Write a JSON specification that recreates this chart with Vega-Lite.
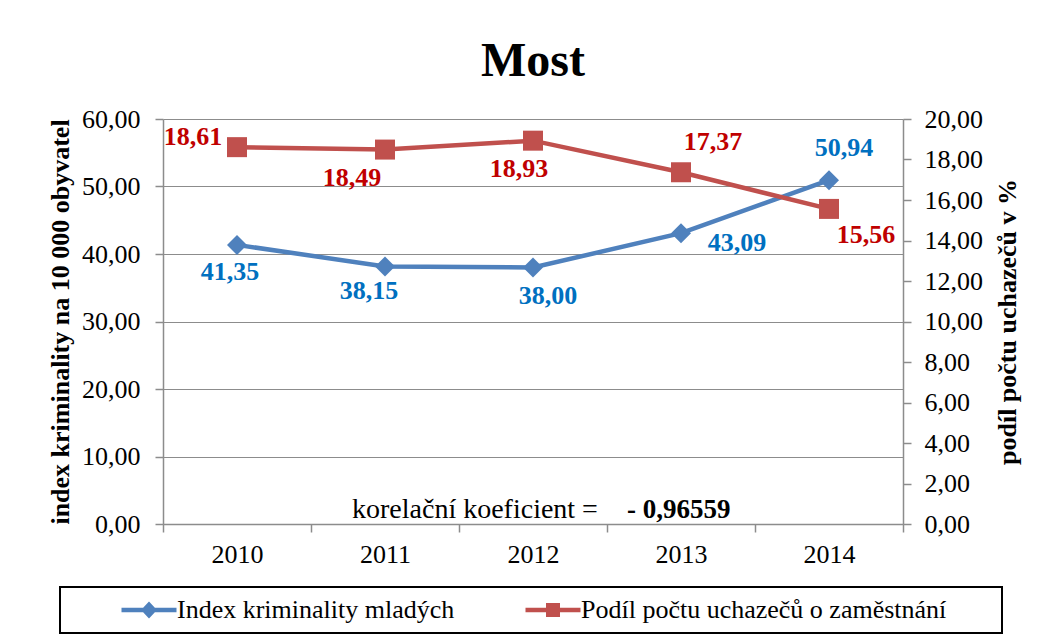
{
  "$schema": "https://vega.github.io/schema/vega-lite/v6.json",
  "width": 740,
  "height": 405,
  "autosize": "none",
  "padding": {"left": 163, "top": 119, "right": 142, "bottom": 120},
  "background": "white",
  "config": {
    "locale": {"number": {"decimal": ",", "thousands": " ", "grouping": [3], "currency": ["", ""]}},
    "font": "Liberation Serif",
    "view": {"stroke": null},
    "axis": {
      "labelFont": "Liberation Serif", "titleFont": "Liberation Serif",
      "labelColor": "black", "titleColor": "black",
      "labelFontSize": 26, "titleFontSize": 26, "titleFontWeight": "bold",
      "domainColor": "#8C8C8C", "tickColor": "#8C8C8C", "gridColor": "#8C8C8C",
      "domainWidth": 1.5, "tickWidth": 1.5, "gridWidth": 1.2, "tickSize": 8
    }
  },
  "title": {"text": "Most", "font": "Liberation Serif", "fontSize": 48, "fontWeight": "bold", "color": "black", "anchor": "middle", "frame": "group", "baseline": "alphabetic", "offset": -18},
  "datasets": {
    "main": [
      {"year": "2010", "series": "Index kriminality mladých", "value": 41.35},
      {"year": "2011", "series": "Index kriminality mladých", "value": 38.15},
      {"year": "2012", "series": "Index kriminality mladých", "value": 38.00},
      {"year": "2013", "series": "Index kriminality mladých", "value": 43.09},
      {"year": "2014", "series": "Index kriminality mladých", "value": 50.94},
      {"year": "2010", "series": "Podíl počtu uchazečů o zaměstnání", "value": 18.61},
      {"year": "2011", "series": "Podíl počtu uchazečů o zaměstnání", "value": 18.49},
      {"year": "2012", "series": "Podíl počtu uchazečů o zaměstnání", "value": 18.93},
      {"year": "2013", "series": "Podíl počtu uchazečů o zaměstnání", "value": 17.37},
      {"year": "2014", "series": "Podíl počtu uchazečů o zaměstnání", "value": 15.56}
    ],
    "note": [
      {"part": "a", "year": "2012", "text": "korelační koeficient ="},
      {"part": "b", "year": "2013", "text": "- 0,96559"}
    ]
  },
  "data": {"name": "main"},
  "encoding": {
    "x": {
      "field": "year", "type": "ordinal",
      "scale": {"type": "band", "paddingInner": 0, "paddingOuter": 0},
      "axis": {"title": null, "labelAngle": 0, "tickBand": "extent", "labelPadding": 9, "grid": false}
    }
  },
  "layer": [
    {
      "transform": [{"filter": "datum.series === 'Index kriminality mladých'"}],
      "encoding": {
        "y": {
          "field": "value", "type": "quantitative",
          "scale": {"domain": [0, 60], "nice": false},
          "axis": {"title": "index kriminality na 10 000 obyvatel", "values": [0, 10, 20, 30, 40, 50, 60], "format": ".2f", "grid": true, "labelPadding": 15, "titlePadding": 8}
        }
      },
      "layer": [
        {
          "mark": {"type": "line", "strokeWidth": 4.5},
          "encoding": {"color": {"field": "series", "type": "nominal", "scale": {"domain": ["Index kriminality mladých", "Podíl počtu uchazečů o zaměstnání"], "range": ["#4F81BD", "#C0504D"]}, "legend": {
            "orient": "none", "legendX": -103, "legendY": 468, "direction": "horizontal", "columns": 2,
            "title": " ", "titleOrient": "right", "titlePadding": 46, "titleFontSize": 26,
            "padding": 10, "strokeColor": "black", "fillColor": "white",
            "labelFont": "Liberation Serif", "labelFontSize": 26, "labelColor": "black", "labelLimit": 600,
            "symbolSize": 400, "symbolOffset": 66, "labelOffset": 15, "columnPadding": 19,
            "symbolType": "square", "symbolStrokeWidth": 0,
            "encode": {
              "legend": {"update": {"strokeWidth": {"value": 2}}},
              "symbols": {"update": {
                "shape": {"signal": "datum.value === 'Index kriminality mladých' ? 'M-2.75,-0.23H2.75V0.23H-2.75Z M0,-0.85L0.8,0L0,0.85L-0.8,0Z' : 'M-2.75,-0.23H2.75V0.23H-2.75Z M-0.7,-0.7H0.7V0.7H-0.7Z'"},
                "fill": {"signal": "datum.value === 'Index kriminality mladých' ? '#4F81BD' : '#C0504D'"},
                "fillOpacity": {"value": 1},
                "opacity": {"value": 1},
                "strokeWidth": {"value": 0}
              }}
            }
          }}}
        },
        {
          "mark": {"type": "point", "shape": "diamond", "filled": true, "size": 400, "opacity": 1},
          "encoding": {"color": {"field": "series", "type": "nominal"}}
        },
        {"transform": [{"filter": "datum.year === '2010'"}], "mark": {"type": "text", "font": "Liberation Serif", "fontSize": 26, "fontWeight": "bold", "color": "#0070C0", "align": "center", "baseline": "middle", "dx": -7, "dy": 27}, "encoding": {"text": {"field": "value", "type": "quantitative", "format": ".2f"}}},
        {"transform": [{"filter": "datum.year === '2011'"}], "mark": {"type": "text", "font": "Liberation Serif", "fontSize": 26, "fontWeight": "bold", "color": "#0070C0", "align": "center", "baseline": "middle", "dx": -16, "dy": 25}, "encoding": {"text": {"field": "value", "type": "quantitative", "format": ".2f"}}},
        {"transform": [{"filter": "datum.year === '2012'"}], "mark": {"type": "text", "font": "Liberation Serif", "fontSize": 26, "fontWeight": "bold", "color": "#0070C0", "align": "center", "baseline": "middle", "dx": 15, "dy": 28}, "encoding": {"text": {"field": "value", "type": "quantitative", "format": ".2f"}}},
        {"transform": [{"filter": "datum.year === '2013'"}], "mark": {"type": "text", "font": "Liberation Serif", "fontSize": 26, "fontWeight": "bold", "color": "#0070C0", "align": "center", "baseline": "middle", "dx": 56, "dy": 10}, "encoding": {"text": {"field": "value", "type": "quantitative", "format": ".2f"}}},
        {"transform": [{"filter": "datum.year === '2014'"}], "mark": {"type": "text", "font": "Liberation Serif", "fontSize": 26, "fontWeight": "bold", "color": "#0070C0", "align": "center", "baseline": "middle", "dx": 15, "dy": -32}, "encoding": {"text": {"field": "value", "type": "quantitative", "format": ".2f"}}}
      ]
    },
    {
      "transform": [{"filter": "datum.series === 'Podíl počtu uchazečů o zaměstnání'"}],
      "encoding": {
        "y": {
          "field": "value", "type": "quantitative",
          "scale": {"domain": [0, 20], "nice": false},
          "axis": {"orient": "right", "title": "podíl počtu uchazečů v %", "values": [0, 2, 4, 6, 8, 10, 12, 14, 16, 18, 20], "format": ".2f", "grid": false, "labelPadding": 13, "titlePadding": 12, "titleAngle": 270, "titleBaseline": "top"}
        }
      },
      "layer": [
        {
          "mark": {"type": "line", "strokeWidth": 4.5},
          "encoding": {"color": {"field": "series", "type": "nominal"}}
        },
        {
          "mark": {"type": "point", "shape": "square", "filled": true, "size": 400, "opacity": 1},
          "encoding": {"color": {"field": "series", "type": "nominal"}}
        },
        {"transform": [{"filter": "datum.year === '2010'"}], "mark": {"type": "text", "font": "Liberation Serif", "fontSize": 26, "fontWeight": "bold", "color": "#C00000", "align": "center", "baseline": "middle", "dx": -44, "dy": -10}, "encoding": {"text": {"field": "value", "type": "quantitative", "format": ".2f"}}},
        {"transform": [{"filter": "datum.year === '2011'"}], "mark": {"type": "text", "font": "Liberation Serif", "fontSize": 26, "fontWeight": "bold", "color": "#C00000", "align": "center", "baseline": "middle", "dx": -33, "dy": 28}, "encoding": {"text": {"field": "value", "type": "quantitative", "format": ".2f"}}},
        {"transform": [{"filter": "datum.year === '2012'"}], "mark": {"type": "text", "font": "Liberation Serif", "fontSize": 26, "fontWeight": "bold", "color": "#C00000", "align": "center", "baseline": "middle", "dx": -14, "dy": 28}, "encoding": {"text": {"field": "value", "type": "quantitative", "format": ".2f"}}},
        {"transform": [{"filter": "datum.year === '2013'"}], "mark": {"type": "text", "font": "Liberation Serif", "fontSize": 26, "fontWeight": "bold", "color": "#C00000", "align": "center", "baseline": "middle", "dx": 32, "dy": -30}, "encoding": {"text": {"field": "value", "type": "quantitative", "format": ".2f"}}},
        {"transform": [{"filter": "datum.year === '2014'"}], "mark": {"type": "text", "font": "Liberation Serif", "fontSize": 26, "fontWeight": "bold", "color": "#C00000", "align": "center", "baseline": "middle", "dx": 37, "dy": 26}, "encoding": {"text": {"field": "value", "type": "quantitative", "format": ".2f"}}}
      ]
    },
    {
      "data": {"name": "note"},
      "encoding": {
        "y": {"datum": 0, "type": "quantitative", "scale": {"domain": [0, 60], "nice": false}, "axis": null}
      },
      "layer": [
        {"transform": [{"filter": "datum.part === 'a'"}], "mark": {"type": "text", "font": "Liberation Serif", "fontSize": 28, "color": "black", "align": "left", "baseline": "alphabetic", "dx": -181, "dy": -6}, "encoding": {"text": {"field": "text"}}},
        {"transform": [{"filter": "datum.part === 'b'"}], "mark": {"type": "text", "font": "Liberation Serif", "fontSize": 27, "fontWeight": "bold", "color": "black", "align": "left", "baseline": "alphabetic", "dx": -54, "dy": -6}, "encoding": {"text": {"field": "text"}}}
      ]
    }
  ],
  "resolve": {"scale": {"y": "independent"}}
}
